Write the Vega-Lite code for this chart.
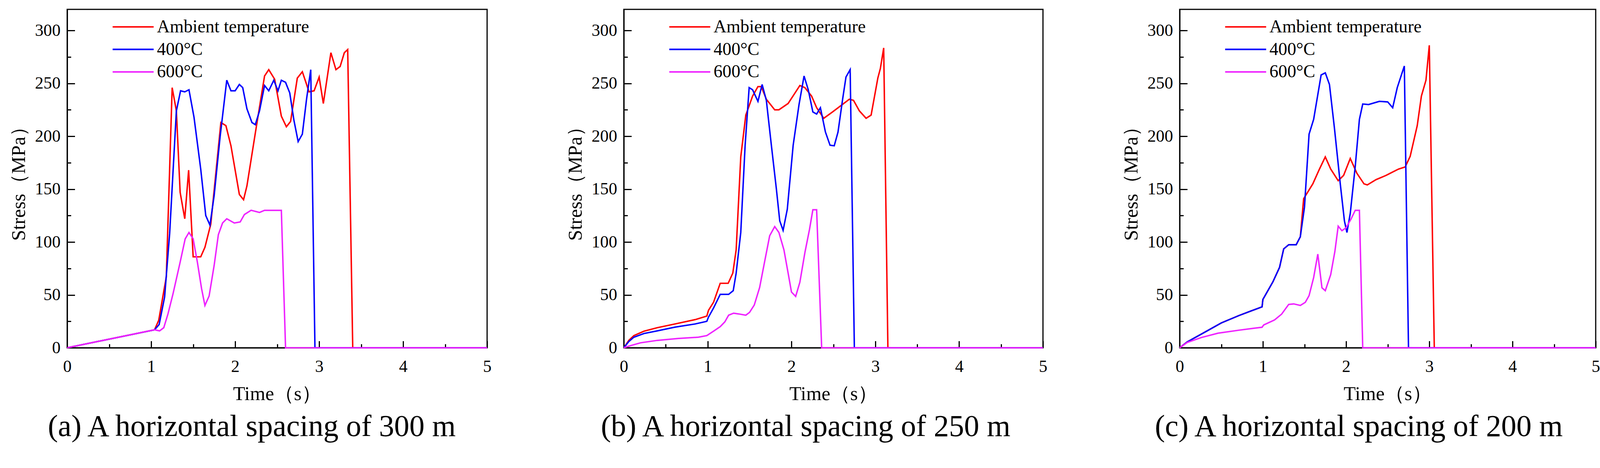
{
  "$schema": "https://vega.github.io/schema/vega-lite/v6.json",
  "background": "white",
  "padding": {"left": 21, "top": 22, "right": 8, "bottom": 5},
  "config": {
    "font": "Liberation Serif",
    "view": {"stroke": "black", "strokeWidth": 3},
    "axis": {
      "grid": false,
      "domainColor": "black",
      "domainWidth": 3,
      "tickColor": "black",
      "tickWidth": 3,
      "labelFont": "Liberation Serif",
      "labelFontSize": 43.7,
      "labelColor": "black",
      "labelFlush": false,
      "labelOverlap": false,
      "titleFont": "Liberation Serif",
      "titleFontSize": 50.5,
      "titleFontWeight": "normal",
      "titleColor": "black"
    },
    "axisX": {"labelPadding": 43.5, "titlePadding": 15.5, "format": "d"},
    "axisY": {"labelPadding": 37, "titlePadding": 14.6, "format": "d"},
    "legend": {
      "padding": 0,
      "symbolType": "M-3,0H3",
      "symbolSize": 1225,
      "symbolStrokeWidth": 3.9,
      "labelFont": "Liberation Serif",
      "labelFontSize": 45.7,
      "labelColor": "black",
      "labelOffset": 38,
      "labelLimit": 1000,
      "rowPadding": 10.7
    },
    "title": {
      "font": "Liberation Serif",
      "fontSize": 77.7,
      "fontWeight": "normal",
      "color": "black",
      "orient": "bottom",
      "frame": "group",
      "offset": 21.4
    }
  },
  "datasets": {
    "a": [
      {"series": "Ambient temperature", "time": 0, "stress": 0},
      {"series": "Ambient temperature", "time": 1.04, "stress": 17},
      {"series": "Ambient temperature", "time": 1.09, "stress": 26},
      {"series": "Ambient temperature", "time": 1.18, "stress": 67},
      {"series": "Ambient temperature", "time": 1.25, "stress": 246},
      {"series": "Ambient temperature", "time": 1.3, "stress": 224},
      {"series": "Ambient temperature", "time": 1.345, "stress": 147},
      {"series": "Ambient temperature", "time": 1.4, "stress": 122},
      {"series": "Ambient temperature", "time": 1.446, "stress": 168},
      {"series": "Ambient temperature", "time": 1.5, "stress": 86},
      {"series": "Ambient temperature", "time": 1.59, "stress": 86},
      {"series": "Ambient temperature", "time": 1.64, "stress": 95},
      {"series": "Ambient temperature", "time": 1.71, "stress": 117},
      {"series": "Ambient temperature", "time": 1.83, "stress": 213},
      {"series": "Ambient temperature", "time": 1.89, "stress": 210},
      {"series": "Ambient temperature", "time": 1.95, "stress": 191},
      {"series": "Ambient temperature", "time": 2.05, "stress": 145},
      {"series": "Ambient temperature", "time": 2.1, "stress": 140},
      {"series": "Ambient temperature", "time": 2.14, "stress": 153},
      {"series": "Ambient temperature", "time": 2.24, "stress": 203},
      {"series": "Ambient temperature", "time": 2.35, "stress": 257},
      {"series": "Ambient temperature", "time": 2.4, "stress": 263},
      {"series": "Ambient temperature", "time": 2.47, "stress": 254},
      {"series": "Ambient temperature", "time": 2.55, "stress": 219},
      {"series": "Ambient temperature", "time": 2.61, "stress": 209},
      {"series": "Ambient temperature", "time": 2.66, "stress": 214},
      {"series": "Ambient temperature", "time": 2.74, "stress": 255},
      {"series": "Ambient temperature", "time": 2.8, "stress": 261},
      {"series": "Ambient temperature", "time": 2.88, "stress": 242},
      {"series": "Ambient temperature", "time": 2.94, "stress": 243},
      {"series": "Ambient temperature", "time": 3.0, "stress": 256},
      {"series": "Ambient temperature", "time": 3.05, "stress": 231},
      {"series": "Ambient temperature", "time": 3.14, "stress": 279},
      {"series": "Ambient temperature", "time": 3.2, "stress": 263},
      {"series": "Ambient temperature", "time": 3.25, "stress": 266},
      {"series": "Ambient temperature", "time": 3.3, "stress": 279},
      {"series": "Ambient temperature", "time": 3.34, "stress": 282},
      {"series": "Ambient temperature", "time": 3.4, "stress": 0},
      {"series": "Ambient temperature", "time": 5, "stress": 0},
      {"series": "400°C", "time": 0, "stress": 0},
      {"series": "400°C", "time": 1.04, "stress": 17},
      {"series": "400°C", "time": 1.095, "stress": 22},
      {"series": "400°C", "time": 1.16, "stress": 48},
      {"series": "400°C", "time": 1.22, "stress": 108},
      {"series": "400°C", "time": 1.3, "stress": 224},
      {"series": "400°C", "time": 1.35, "stress": 243},
      {"series": "400°C", "time": 1.4, "stress": 242},
      {"series": "400°C", "time": 1.45, "stress": 244},
      {"series": "400°C", "time": 1.51, "stress": 218},
      {"series": "400°C", "time": 1.59, "stress": 169},
      {"series": "400°C", "time": 1.65, "stress": 125},
      {"series": "400°C", "time": 1.7, "stress": 116},
      {"series": "400°C", "time": 1.75, "stress": 144},
      {"series": "400°C", "time": 1.82, "stress": 199},
      {"series": "400°C", "time": 1.9, "stress": 253},
      {"series": "400°C", "time": 1.95, "stress": 243},
      {"series": "400°C", "time": 2.0, "stress": 243},
      {"series": "400°C", "time": 2.05, "stress": 249},
      {"series": "400°C", "time": 2.09, "stress": 246},
      {"series": "400°C", "time": 2.14, "stress": 226},
      {"series": "400°C", "time": 2.2, "stress": 213},
      {"series": "400°C", "time": 2.24, "stress": 211},
      {"series": "400°C", "time": 2.29, "stress": 224},
      {"series": "400°C", "time": 2.35, "stress": 248},
      {"series": "400°C", "time": 2.4, "stress": 243},
      {"series": "400°C", "time": 2.46, "stress": 253},
      {"series": "400°C", "time": 2.51, "stress": 243},
      {"series": "400°C", "time": 2.55, "stress": 253},
      {"series": "400°C", "time": 2.6, "stress": 251},
      {"series": "400°C", "time": 2.65, "stress": 241},
      {"series": "400°C", "time": 2.7, "stress": 215},
      {"series": "400°C", "time": 2.75, "stress": 195},
      {"series": "400°C", "time": 2.8, "stress": 202},
      {"series": "400°C", "time": 2.85, "stress": 235},
      {"series": "400°C", "time": 2.9, "stress": 263},
      {"series": "400°C", "time": 2.95, "stress": 0},
      {"series": "400°C", "time": 5, "stress": 0},
      {"series": "600°C", "time": 0, "stress": 0},
      {"series": "600°C", "time": 1.04, "stress": 17},
      {"series": "600°C", "time": 1.1, "stress": 16},
      {"series": "600°C", "time": 1.15, "stress": 19},
      {"series": "600°C", "time": 1.2, "stress": 32},
      {"series": "600°C", "time": 1.26, "stress": 51},
      {"series": "600°C", "time": 1.345, "stress": 81},
      {"series": "600°C", "time": 1.405, "stress": 103},
      {"series": "600°C", "time": 1.45, "stress": 109},
      {"series": "600°C", "time": 1.5, "stress": 103},
      {"series": "600°C", "time": 1.55, "stress": 81},
      {"series": "600°C", "time": 1.6, "stress": 56},
      {"series": "600°C", "time": 1.64, "stress": 40},
      {"series": "600°C", "time": 1.69, "stress": 49},
      {"series": "600°C", "time": 1.75, "stress": 78},
      {"series": "600°C", "time": 1.8, "stress": 107},
      {"series": "600°C", "time": 1.85, "stress": 118},
      {"series": "600°C", "time": 1.9, "stress": 122},
      {"series": "600°C", "time": 1.99, "stress": 118},
      {"series": "600°C", "time": 2.06, "stress": 119},
      {"series": "600°C", "time": 2.11, "stress": 126},
      {"series": "600°C", "time": 2.19, "stress": 130},
      {"series": "600°C", "time": 2.29, "stress": 128},
      {"series": "600°C", "time": 2.35, "stress": 130},
      {"series": "600°C", "time": 2.55, "stress": 130},
      {"series": "600°C", "time": 2.6, "stress": 0},
      {"series": "600°C", "time": 5, "stress": 0}
    ],
    "b": [
      {"series": "Ambient temperature", "time": 0, "stress": 0},
      {"series": "Ambient temperature", "time": 0.06, "stress": 7},
      {"series": "Ambient temperature", "time": 0.12, "stress": 11.5},
      {"series": "Ambient temperature", "time": 0.24, "stress": 15.7},
      {"series": "Ambient temperature", "time": 0.4, "stress": 19},
      {"series": "Ambient temperature", "time": 0.61, "stress": 22.5},
      {"series": "Ambient temperature", "time": 0.85, "stress": 26.6},
      {"series": "Ambient temperature", "time": 0.99, "stress": 30},
      {"series": "Ambient temperature", "time": 1.01, "stress": 35.4},
      {"series": "Ambient temperature", "time": 1.07, "stress": 43},
      {"series": "Ambient temperature", "time": 1.15, "stress": 61},
      {"series": "Ambient temperature", "time": 1.245, "stress": 61},
      {"series": "Ambient temperature", "time": 1.3, "stress": 70.6},
      {"series": "Ambient temperature", "time": 1.34, "stress": 92.6},
      {"series": "Ambient temperature", "time": 1.395, "stress": 180.5},
      {"series": "Ambient temperature", "time": 1.455, "stress": 220},
      {"series": "Ambient temperature", "time": 1.536, "stress": 238},
      {"series": "Ambient temperature", "time": 1.6, "stress": 247},
      {"series": "Ambient temperature", "time": 1.64, "stress": 247},
      {"series": "Ambient temperature", "time": 1.7, "stress": 235},
      {"series": "Ambient temperature", "time": 1.8, "stress": 225},
      {"series": "Ambient temperature", "time": 1.85, "stress": 225},
      {"series": "Ambient temperature", "time": 1.96, "stress": 231},
      {"series": "Ambient temperature", "time": 2.1, "stress": 248},
      {"series": "Ambient temperature", "time": 2.16, "stress": 246},
      {"series": "Ambient temperature", "time": 2.24, "stress": 238},
      {"series": "Ambient temperature", "time": 2.3, "stress": 227},
      {"series": "Ambient temperature", "time": 2.385, "stress": 217},
      {"series": "Ambient temperature", "time": 2.49, "stress": 223},
      {"series": "Ambient temperature", "time": 2.59, "stress": 229},
      {"series": "Ambient temperature", "time": 2.69, "stress": 235},
      {"series": "Ambient temperature", "time": 2.74, "stress": 234},
      {"series": "Ambient temperature", "time": 2.81, "stress": 224},
      {"series": "Ambient temperature", "time": 2.89, "stress": 217},
      {"series": "Ambient temperature", "time": 2.95, "stress": 220},
      {"series": "Ambient temperature", "time": 3.03, "stress": 255},
      {"series": "Ambient temperature", "time": 3.06, "stress": 264},
      {"series": "Ambient temperature", "time": 3.1, "stress": 283.5},
      {"series": "Ambient temperature", "time": 3.15, "stress": 0},
      {"series": "Ambient temperature", "time": 5, "stress": 0},
      {"series": "400°C", "time": 0, "stress": 0},
      {"series": "400°C", "time": 0.06, "stress": 6},
      {"series": "400°C", "time": 0.12, "stress": 10},
      {"series": "400°C", "time": 0.24, "stress": 13.5},
      {"series": "400°C", "time": 0.4, "stress": 16},
      {"series": "400°C", "time": 0.61, "stress": 19.5},
      {"series": "400°C", "time": 0.85, "stress": 22.5},
      {"series": "400°C", "time": 0.99, "stress": 25},
      {"series": "400°C", "time": 1.01, "stress": 29},
      {"series": "400°C", "time": 1.07, "stress": 37.6},
      {"series": "400°C", "time": 1.15, "stress": 50.5},
      {"series": "400°C", "time": 1.25, "stress": 50.5},
      {"series": "400°C", "time": 1.305, "stress": 54},
      {"series": "400°C", "time": 1.34, "stress": 70.6},
      {"series": "400°C", "time": 1.395, "stress": 109},
      {"series": "400°C", "time": 1.447, "stress": 191.5},
      {"series": "400°C", "time": 1.495, "stress": 246},
      {"series": "400°C", "time": 1.536, "stress": 244},
      {"series": "400°C", "time": 1.6, "stress": 233},
      {"series": "400°C", "time": 1.65, "stress": 249},
      {"series": "400°C", "time": 1.7, "stress": 234},
      {"series": "400°C", "time": 1.76, "stress": 191.5},
      {"series": "400°C", "time": 1.82, "stress": 150},
      {"series": "400°C", "time": 1.86, "stress": 120},
      {"series": "400°C", "time": 1.9, "stress": 111},
      {"series": "400°C", "time": 1.95, "stress": 131},
      {"series": "400°C", "time": 2.02, "stress": 191.5},
      {"series": "400°C", "time": 2.09, "stress": 230},
      {"series": "400°C", "time": 2.15, "stress": 257},
      {"series": "400°C", "time": 2.2, "stress": 244},
      {"series": "400°C", "time": 2.255, "stress": 223},
      {"series": "400°C", "time": 2.3, "stress": 221},
      {"series": "400°C", "time": 2.345, "stress": 227},
      {"series": "400°C", "time": 2.405, "stress": 204},
      {"series": "400°C", "time": 2.46, "stress": 191.5},
      {"series": "400°C", "time": 2.51, "stress": 191},
      {"series": "400°C", "time": 2.555, "stress": 204},
      {"series": "400°C", "time": 2.61, "stress": 235},
      {"series": "400°C", "time": 2.65, "stress": 256},
      {"series": "400°C", "time": 2.7, "stress": 263},
      {"series": "400°C", "time": 2.75, "stress": 0},
      {"series": "400°C", "time": 5, "stress": 0},
      {"series": "600°C", "time": 0, "stress": 0},
      {"series": "600°C", "time": 0.08, "stress": 2},
      {"series": "600°C", "time": 0.2, "stress": 4.7},
      {"series": "600°C", "time": 0.4, "stress": 7},
      {"series": "600°C", "time": 0.65, "stress": 8.8},
      {"series": "600°C", "time": 0.89, "stress": 10},
      {"series": "600°C", "time": 0.99, "stress": 11.5},
      {"series": "600°C", "time": 1.07, "stress": 15.7},
      {"series": "600°C", "time": 1.15, "stress": 20},
      {"series": "600°C", "time": 1.205, "stress": 24.5},
      {"series": "600°C", "time": 1.25, "stress": 30.8},
      {"series": "600°C", "time": 1.31, "stress": 32.7},
      {"series": "600°C", "time": 1.37, "stress": 32},
      {"series": "600°C", "time": 1.455, "stress": 30.8},
      {"series": "600°C", "time": 1.5, "stress": 33.5},
      {"series": "600°C", "time": 1.556, "stress": 40.4},
      {"series": "600°C", "time": 1.62, "stress": 57},
      {"series": "600°C", "time": 1.68, "stress": 81.6},
      {"series": "600°C", "time": 1.74, "stress": 106},
      {"series": "600°C", "time": 1.8, "stress": 114.6},
      {"series": "600°C", "time": 1.85, "stress": 109},
      {"series": "600°C", "time": 1.91, "stress": 92.6},
      {"series": "600°C", "time": 1.96, "stress": 70.6},
      {"series": "600°C", "time": 2.0, "stress": 52.7},
      {"series": "600°C", "time": 2.05, "stress": 48.6},
      {"series": "600°C", "time": 2.1, "stress": 62},
      {"series": "600°C", "time": 2.16, "stress": 90},
      {"series": "600°C", "time": 2.215, "stress": 112},
      {"series": "600°C", "time": 2.255, "stress": 130.5},
      {"series": "600°C", "time": 2.3, "stress": 130.5},
      {"series": "600°C", "time": 2.36, "stress": 0},
      {"series": "600°C", "time": 5, "stress": 0}
    ],
    "c": [
      {"series": "Ambient temperature", "time": 0, "stress": 0},
      {"series": "Ambient temperature", "time": 0.09, "stress": 5.5},
      {"series": "Ambient temperature", "time": 0.28, "stress": 13.8},
      {"series": "Ambient temperature", "time": 0.5, "stress": 23.5},
      {"series": "Ambient temperature", "time": 0.71, "stress": 30.4},
      {"series": "Ambient temperature", "time": 0.85, "stress": 34.6},
      {"series": "Ambient temperature", "time": 0.99, "stress": 38.7},
      {"series": "Ambient temperature", "time": 1.0, "stress": 45.7},
      {"series": "Ambient temperature", "time": 1.12, "stress": 62.3},
      {"series": "Ambient temperature", "time": 1.2, "stress": 76},
      {"series": "Ambient temperature", "time": 1.25, "stress": 93.5},
      {"series": "Ambient temperature", "time": 1.31, "stress": 97.4},
      {"series": "Ambient temperature", "time": 1.4, "stress": 97.4},
      {"series": "Ambient temperature", "time": 1.45, "stress": 105},
      {"series": "Ambient temperature", "time": 1.49, "stress": 141},
      {"series": "Ambient temperature", "time": 1.6, "stress": 155},
      {"series": "Ambient temperature", "time": 1.68, "stress": 169},
      {"series": "Ambient temperature", "time": 1.75, "stress": 180.5},
      {"series": "Ambient temperature", "time": 1.815, "stress": 169},
      {"series": "Ambient temperature", "time": 1.905, "stress": 158},
      {"series": "Ambient temperature", "time": 1.97, "stress": 163},
      {"series": "Ambient temperature", "time": 2.05, "stress": 179},
      {"series": "Ambient temperature", "time": 2.13, "stress": 165},
      {"series": "Ambient temperature", "time": 2.215, "stress": 155},
      {"series": "Ambient temperature", "time": 2.255, "stress": 154},
      {"series": "Ambient temperature", "time": 2.36, "stress": 159},
      {"series": "Ambient temperature", "time": 2.48, "stress": 163},
      {"series": "Ambient temperature", "time": 2.63, "stress": 169},
      {"series": "Ambient temperature", "time": 2.71, "stress": 171},
      {"series": "Ambient temperature", "time": 2.77, "stress": 181},
      {"series": "Ambient temperature", "time": 2.855, "stress": 210},
      {"series": "Ambient temperature", "time": 2.905, "stress": 238},
      {"series": "Ambient temperature", "time": 2.96, "stress": 253},
      {"series": "Ambient temperature", "time": 3.0, "stress": 286},
      {"series": "Ambient temperature", "time": 3.06, "stress": 0},
      {"series": "Ambient temperature", "time": 5, "stress": 0},
      {"series": "400°C", "time": 0, "stress": 0},
      {"series": "400°C", "time": 0.09, "stress": 5.5},
      {"series": "400°C", "time": 0.28, "stress": 13.8},
      {"series": "400°C", "time": 0.5, "stress": 23.5},
      {"series": "400°C", "time": 0.71, "stress": 30.4},
      {"series": "400°C", "time": 0.85, "stress": 34.6},
      {"series": "400°C", "time": 0.99, "stress": 38.7},
      {"series": "400°C", "time": 1.0, "stress": 45.7},
      {"series": "400°C", "time": 1.12, "stress": 62.3},
      {"series": "400°C", "time": 1.2, "stress": 76},
      {"series": "400°C", "time": 1.25, "stress": 93.5},
      {"series": "400°C", "time": 1.31, "stress": 97.4},
      {"series": "400°C", "time": 1.4, "stress": 97.4},
      {"series": "400°C", "time": 1.45, "stress": 105},
      {"series": "400°C", "time": 1.5, "stress": 133},
      {"series": "400°C", "time": 1.555, "stress": 202},
      {"series": "400°C", "time": 1.61, "stress": 216},
      {"series": "400°C", "time": 1.7, "stress": 258},
      {"series": "400°C", "time": 1.75, "stress": 260},
      {"series": "400°C", "time": 1.8, "stress": 249},
      {"series": "400°C", "time": 1.86, "stress": 207.6},
      {"series": "400°C", "time": 1.93, "stress": 155},
      {"series": "400°C", "time": 1.98, "stress": 120},
      {"series": "400°C", "time": 2.01, "stress": 109},
      {"series": "400°C", "time": 2.05, "stress": 127},
      {"series": "400°C", "time": 2.11, "stress": 171.6},
      {"series": "400°C", "time": 2.16, "stress": 216},
      {"series": "400°C", "time": 2.2, "stress": 230.5},
      {"series": "400°C", "time": 2.27, "stress": 230},
      {"series": "400°C", "time": 2.4, "stress": 233},
      {"series": "400°C", "time": 2.5, "stress": 232.5},
      {"series": "400°C", "time": 2.56, "stress": 227},
      {"series": "400°C", "time": 2.615, "stress": 246},
      {"series": "400°C", "time": 2.7, "stress": 266.5},
      {"series": "400°C", "time": 2.75, "stress": 0},
      {"series": "400°C", "time": 5, "stress": 0},
      {"series": "600°C", "time": 0, "stress": 0},
      {"series": "600°C", "time": 0.09, "stress": 5},
      {"series": "600°C", "time": 0.26, "stress": 9.7},
      {"series": "600°C", "time": 0.46, "stress": 13.8},
      {"series": "600°C", "time": 0.71, "stress": 16.6},
      {"series": "600°C", "time": 0.895, "stress": 18.5},
      {"series": "600°C", "time": 0.99, "stress": 19.4},
      {"series": "600°C", "time": 1.01, "stress": 21.6},
      {"series": "600°C", "time": 1.14, "stress": 26.3},
      {"series": "600°C", "time": 1.225, "stress": 31.8},
      {"series": "600°C", "time": 1.31, "stress": 41},
      {"series": "600°C", "time": 1.37, "stress": 41.5},
      {"series": "600°C", "time": 1.45, "stress": 40},
      {"series": "600°C", "time": 1.51, "stress": 43},
      {"series": "600°C", "time": 1.555, "stress": 49.3},
      {"series": "600°C", "time": 1.61, "stress": 66.4},
      {"series": "600°C", "time": 1.66, "stress": 88.6},
      {"series": "600°C", "time": 1.71, "stress": 56.7},
      {"series": "600°C", "time": 1.75, "stress": 54},
      {"series": "600°C", "time": 1.815, "stress": 69.2},
      {"series": "600°C", "time": 1.865, "stress": 91},
      {"series": "600°C", "time": 1.905, "stress": 115},
      {"series": "600°C", "time": 1.95, "stress": 110.7},
      {"series": "600°C", "time": 2.0, "stress": 113.5},
      {"series": "600°C", "time": 2.06, "stress": 121.8},
      {"series": "600°C", "time": 2.11, "stress": 130},
      {"series": "600°C", "time": 2.16, "stress": 130},
      {"series": "600°C", "time": 2.2, "stress": 0},
      {"series": "600°C", "time": 5, "stress": 0}
    ]
  },
  "spacing": 186,
  "resolve": {"legend": {"color": "independent"}},
  "hconcat": [
    {
      "width": 1075,
      "height": 867,
      "data": {"name": "a"},
      "title": {"text": "(a) A horizontal spacing of 300 m", "dx": -65},
      "mark": {"type": "line", "strokeWidth": 3.7},
      "encoding": {
        "x": {
          "field": "time", "type": "quantitative", "title": "Time（s）",
          "scale": {"domain": [0, 5], "nice": false},
          "axis": {
            "values": [0, 0.5, 1, 1.5, 2, 2.5, 3, 3.5, 4, 4.5, 5],
            "labelExpr": "datum.value % 1 === 0 ? datum.label : ''",
            "tickSize": {"condition": {"test": "datum.value % 1 === 0", "value": -17.5}, "value": -9.7}
          }
        },
        "y": {
          "field": "stress", "type": "quantitative", "title": "Stress（MPa）",
          "scale": {"domain": [0, 320], "nice": false},
          "axis": {
            "values": [0, 25, 50, 75, 100, 125, 150, 175, 200, 225, 250, 275, 300],
            "labelExpr": "datum.value % 50 === 0 ? datum.label : ''",
            "tickSize": {"condition": {"test": "datum.value % 50 === 0", "value": -19.5}, "value": -9.7}
          }
        },
        "color": {
          "field": "series", "type": "nominal", "sort": null,
          "scale": {"domain": ["Ambient temperature", "400°C", "600°C"], "range": ["#FF0000", "#0000FF", "#EE22FF"]},
          "legend": {"title": null, "orient": "none", "legendX": 146, "legendY": 22}
        }
      }
    },
    {
      "width": 1073,
      "height": 867,
      "data": {"name": "b"},
      "title": {"text": "(b) A horizontal spacing of 250 m", "dx": -71},
      "mark": {"type": "line", "strokeWidth": 3.7},
      "encoding": {
        "x": {
          "field": "time", "type": "quantitative", "title": "Time（s）",
          "scale": {"domain": [0, 5], "nice": false},
          "axis": {
            "values": [0, 0.5, 1, 1.5, 2, 2.5, 3, 3.5, 4, 4.5, 5],
            "labelExpr": "datum.value % 1 === 0 ? datum.label : ''",
            "tickSize": {"condition": {"test": "datum.value % 1 === 0", "value": -17.5}, "value": -9.7}
          }
        },
        "y": {
          "field": "stress", "type": "quantitative", "title": "Stress（MPa）",
          "scale": {"domain": [0, 320], "nice": false},
          "axis": {
            "values": [0, 25, 50, 75, 100, 125, 150, 175, 200, 225, 250, 275, 300],
            "labelExpr": "datum.value % 50 === 0 ? datum.label : ''",
            "tickSize": {"condition": {"test": "datum.value % 50 === 0", "value": -19.5}, "value": -9.7}
          }
        },
        "color": {
          "field": "series", "type": "nominal", "sort": null,
          "scale": {"domain": ["Ambient temperature", "400°C", "600°C"], "range": ["#FF0000", "#0000FF", "#EE22FF"]},
          "legend": {"title": null, "orient": "none", "legendX": 146, "legendY": 22}
        }
      }
    },
    {
      "width": 1065,
      "height": 867,
      "data": {"name": "c"},
      "title": {"text": "(c) A horizontal spacing of 200 m", "dx": -74},
      "mark": {"type": "line", "strokeWidth": 3.7},
      "encoding": {
        "x": {
          "field": "time", "type": "quantitative", "title": "Time（s）",
          "scale": {"domain": [0, 5], "nice": false},
          "axis": {
            "values": [0, 0.5, 1, 1.5, 2, 2.5, 3, 3.5, 4, 4.5, 5],
            "labelExpr": "datum.value % 1 === 0 ? datum.label : ''",
            "tickSize": {"condition": {"test": "datum.value % 1 === 0", "value": -17.5}, "value": -9.7}
          }
        },
        "y": {
          "field": "stress", "type": "quantitative", "title": "Stress（MPa）",
          "scale": {"domain": [0, 320], "nice": false},
          "axis": {
            "values": [0, 25, 50, 75, 100, 125, 150, 175, 200, 225, 250, 275, 300],
            "labelExpr": "datum.value % 50 === 0 ? datum.label : ''",
            "tickSize": {"condition": {"test": "datum.value % 50 === 0", "value": -19.5}, "value": -9.7}
          }
        },
        "color": {
          "field": "series", "type": "nominal", "sort": null,
          "scale": {"domain": ["Ambient temperature", "400°C", "600°C"], "range": ["#FF0000", "#0000FF", "#EE22FF"]},
          "legend": {"title": null, "orient": "none", "legendX": 146, "legendY": 22}
        }
      }
    }
  ]
}
